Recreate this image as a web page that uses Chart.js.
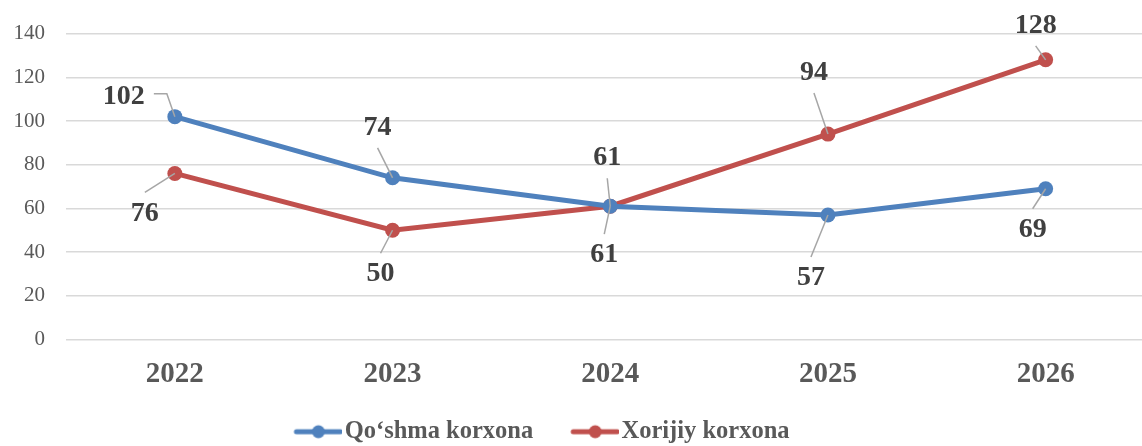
<!DOCTYPE html>
<html lang="uz">
<head>
    <meta charset="UTF-8">
    <title>Qo‘shma va xorijiy korxonalar</title>
    <script src="https://cdn.jsdelivr.net/npm/chart.js"></script>
    <style>
        body {
            margin: 0;
            overflow: hidden;
            background-color: #ffffff;
        }

        #chart-container {
            width: 1162px;
            height: 446px;
        }
    </style>
</head>
<body>
    <div id="chart-container">
        <canvas id="lineChart" width="1162" height="446"></canvas>
    </div>

    <script>
        const years = ['2022', '2023', '2024', '2025', '2026'];
        const qoshmaValues = [102, 74, 61, 57, 69];
        const xorijiyValues = [76, 50, 61, 94, 128];
        const seriesNames = ['Qo‘shma korxona', 'Xorijiy korxona'];

        const blue = '#4F81BD';
        const red = '#C0504D';
        const serif = "'Liberation Serif', 'Times New Roman', serif";

        // where each value label sits relative to its marker (pixels)
        const labelOffsets = [
            [[-51, -20], [-15, -50], [-3, -48], [-17, 63], [-13, 41]],
            [[-30, 40], [-12, 44], [-6, 49], [-14, -61], [-10, -34]]
        ];

        // line + dot marker for the legend, like Excel.
        // drawn on the right side of a wider transparent canvas so the
        // text sits close to it while the items stay far apart
        function legendMarker(color) {
            const c = document.createElement('canvas');
            c.width = 86;
            c.height = 16;
            const g = c.getContext('2d');
            const x0 = 86 - 48;
            g.strokeStyle = color;
            g.lineWidth = 5;
            g.lineCap = 'round';
            g.beginPath();
            g.moveTo(x0 + 2, 8);
            g.lineTo(x0 + 46, 8);
            g.stroke();
            g.fillStyle = color;
            g.beginPath();
            g.arc(x0 + 24, 8, 6.5, 0, Math.PI * 2);
            g.fill();
            return c;
        }
        const markers = [legendMarker(blue), legendMarker(red)];

        const valueLabels = {
            id: 'valueLabels',
            afterDatasetsDraw(chart) {
                const ctx = chart.ctx;
                ctx.save();
                ctx.font = 'bold 28px ' + serif;
                ctx.textAlign = 'center';
                ctx.textBaseline = 'middle';
                chart.data.datasets.forEach((ds, i) => {
                    const meta = chart.getDatasetMeta(i);
                    meta.data.forEach((pt, j) => {
                        const [dx, dy] = labelOffsets[i][j];
                        const lx = pt.x + dx;
                        const ly = pt.y + dy;
                        const text = String(ds.data[j]);
                        const w = ctx.measureText(text).width;

                        ctx.strokeStyle = '#A6A6A6';
                        ctx.lineWidth = 1.5;
                        ctx.beginPath();
                        if (Math.abs(dy) > 25) {
                            const sy = dy < 0 ? ly + 20 : ly - 21;
                            ctx.moveTo(lx, sy);
                        } else {
                            const sx = lx + w / 2 + 9;
                            ctx.moveTo(sx, ly - 3);
                            ctx.lineTo(sx + 13, ly - 3);
                        }
                        ctx.lineTo(pt.x, pt.y);
                        ctx.stroke();

                        ctx.fillStyle = '#404040';
                        ctx.fillText(text, lx, ly);
                    });
                });
                ctx.restore();
            }
        };

        // move the legend to where the original has it
        const nudgeLegend = {
            id: 'nudgeLegend',
            afterLayout(chart) {
                const lg = chart.legend;
                lg.left -= 53;
                lg.right -= 53;
                lg.top += 8;
                lg.bottom += 8;
            }
        };

        const ctx = document.getElementById('lineChart').getContext('2d');

        const lineChart = new Chart(ctx, {
            type: 'line',
            data: {
                labels: years,
                datasets: [
                    {
                        label: seriesNames[0],
                        data: qoshmaValues,
                        borderColor: blue,
                        backgroundColor: blue,
                        borderWidth: 5,
                        pointRadius: 7.5,
                        pointBorderWidth: 0,
                        fill: false
                    },
                    {
                        label: seriesNames[1],
                        data: xorijiyValues,
                        borderColor: red,
                        backgroundColor: red,
                        borderWidth: 5,
                        pointRadius: 7.5,
                        pointBorderWidth: 0,
                        fill: false
                    }
                ]
            },
            options: {
                responsive: false,
                animation: false,
                devicePixelRatio: 1,
                layout: {
                    padding: { top: 31, left: 0, right: 0, bottom: 0 }
                },
                scales: {
                    x: {
                        offset: true,
                        grid: { display: false },
                        border: { display: false },
                        ticks: {
                            padding: 10,
                            color: '#595959',
                            font: { family: serif, size: 29, weight: 'bold' }
                        },
                        afterFit(scale) {
                            scale.height = 62;
                        }
                    },
                    y: {
                        min: 0,
                        max: 140,
                        border: { display: false },
                        grid: {
                            color: '#D9D9D9',
                            lineWidth: 1.5,
                            drawTicks: false
                        },
                        ticks: {
                            stepSize: 20,
                            padding: 21,
                            color: '#595959',
                            font: { family: serif, size: 21 }
                        },
                        afterFit(scale) {
                            scale.width = 66;
                        }
                    }
                },
                plugins: {
                    tooltip: { enabled: false },
                    legend: {
                        position: 'bottom',
                        labels: {
                            usePointStyle: true,
                            pointStyleWidth: 66,
                            padding: 10,
                            color: '#595959',
                            font: { family: serif, size: 24.5, weight: 'bold' },
                            generateLabels(chart) {
                                const items = Chart.defaults.plugins.legend.labels.generateLabels(chart);
                                items.forEach((it, i) => { it.pointStyle = markers[i]; });
                                return items;
                            }
                        }
                    }
                }
            },
            plugins: [valueLabels, nudgeLegend]
        });
    </script>
</body>
</html>
